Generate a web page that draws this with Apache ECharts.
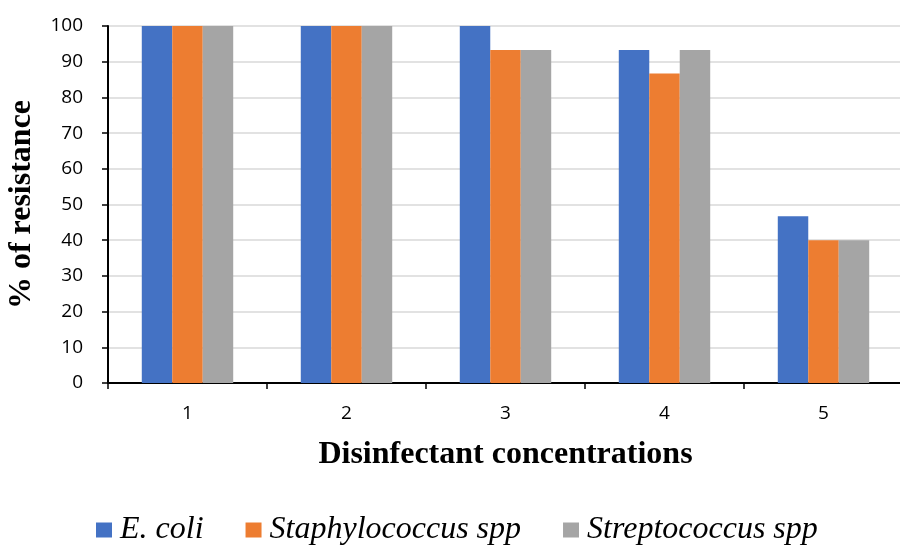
<!DOCTYPE html>
<html>
<head>
<meta charset="utf-8">
<script src="https://cdn.jsdelivr.net/npm/echarts@6/dist/echarts.min.js"></script>
<style>
  html, body { margin: 0; padding: 0; background: #fff; }
  #chart { width: 900px; height: 546px; }
</style>
</head>
<body>
<div id="chart"></div>
<script>
// Disinfectant concentration levels
const categories = ['1', '2', '3', '4', '5'];

// % of resistant isolates at each concentration
const eColi = [100, 100, 100, 93.3, 46.7];
const staphylococcus = [100, 100, 93.3, 86.7, 40];
const streptococcus = [100, 100, 93.3, 93.3, 40];

const seriesNames = ['E. coli', 'Staphylococcus spp', 'Streptococcus spp'];
const seriesColors = ['#4472C4', '#ED7D31', '#A5A5A5'];
const seriesData = [eColi, staphylococcus, streptococcus];

const serifBold = {
  fontFamily: 'Liberation Serif',
  fontWeight: 'bold',
  fontSize: 32,
  color: '#000'
};

const chart = echarts.init(document.getElementById('chart'));

chart.setOption({
  animation: false,
  backgroundColor: '#ffffff',
  grid: {
    left: 108, top: 26, width: 795, bottom: 163,
    containLabel: false,
    outerBoundsMode: 'none'
  },
  legend: {
    top: 514,
    left: 96,
    padding: 0,
    itemWidth: 16,
    itemHeight: 15,
    itemGap: 42,
    icon: 'rect',
    textStyle: {
      fontFamily: 'Liberation Serif',
      fontStyle: 'italic',
      fontSize: 32,
      color: '#000',
      padding: [0, 0, 0, 3]
    },
    data: seriesNames
  },
  xAxis: {
    type: 'category',
    data: categories,
    name: 'Disinfectant concentrations',
    nameLocation: 'middle',
    nameGap: 56,
    nameTextStyle: serifBold,
    axisLine: { lineStyle: { color: '#000', width: 2 } },
    axisTick: { show: true, length: 6, lineStyle: { color: '#000', width: 1.5 } },
    axisLabel: { fontFamily: 'Open Sans', fontSize: 19, color: '#000', margin: 21 }
  },
  yAxis: {
    type: 'value',
    min: 0,
    max: 100,
    interval: 10,
    name: '% of resistance',
    nameLocation: 'middle',
    nameRotate: 90,
    nameGap: 70,
    nameTextStyle: serifBold,
    axisLine: { show: true, lineStyle: { color: '#000', width: 2 } },
    axisTick: { show: true, length: 6, lineStyle: { color: '#000', width: 1.5 } },
    axisLabel: { fontFamily: 'Open Sans', fontSize: 19, color: '#000', margin: 25 },
    splitLine: { lineStyle: { color: '#d9d9d9', width: 1.5 } }
  },
  series: seriesNames.map((name, i) => ({
    name: name,
    type: 'bar',
    data: seriesData[i],
    barGap: '0%',
    barCategoryGap: '42.5%',
    itemStyle: { color: seriesColors[i] }
  }))
});
</script>
</body>
</html>
